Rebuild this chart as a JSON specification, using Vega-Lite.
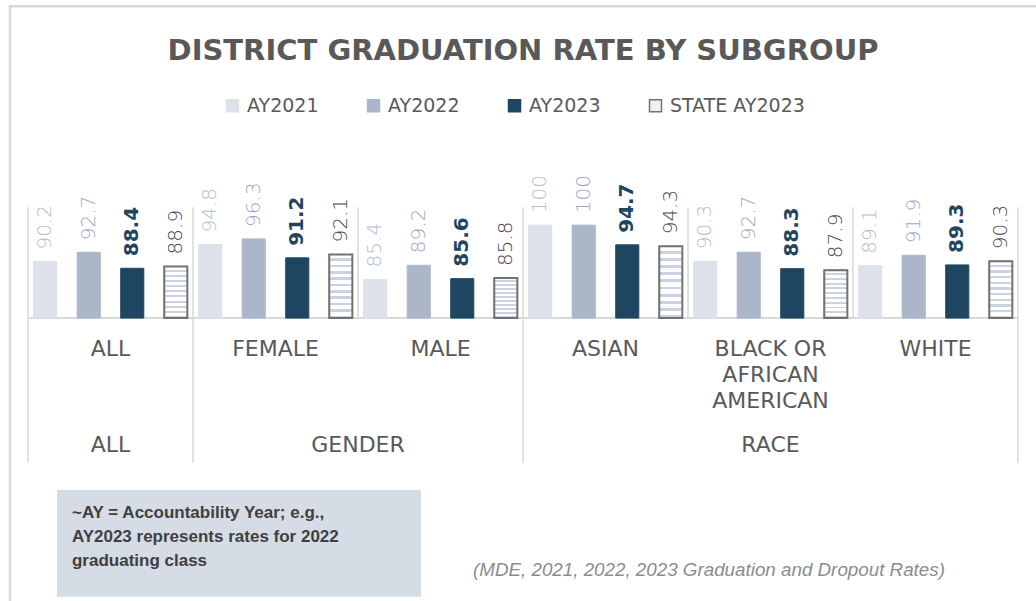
{
  "$schema": "https://vega.github.io/schema/vega-lite/v6.json",
  "width": 990,
  "height": 275,
  "autosize": {"type": "none"},
  "padding": {"left": 28, "top": 188, "right": 18, "bottom": 138},
  "background": "white",
  "config": {
    "view": {"stroke": null},
    "font": "DejaVu Sans",
    "legend": {
      "orient": "none",
      "legendX": 195,
      "legendY": -92,
      "direction": "horizontal",
      "title": null,
      "symbolType": "square",
      "symbolSize": 144,
      "labelFont": "DejaVu Sans",
      "labelFontSize": 19,
      "labelColor": "#595959",
      "labelOffset": 5,
      "columnPadding": 45,
      "padding": 0
    }
  },
  "title": {
    "text": "DISTRICT GRADUATION RATE BY SUBGROUP",
    "anchor": "middle",
    "frame": "group",
    "font": "DejaVu Sans",
    "fontSize": 29,
    "fontWeight": "bold",
    "color": "#595959",
    "offset": -61
  },
  "datasets": {
    "rates": [
      {"subgroup": "ALL", "group": "ALL", "series": "AY2021", "rate": 90.2},
      {"subgroup": "ALL", "group": "ALL", "series": "AY2022", "rate": 92.7},
      {"subgroup": "ALL", "group": "ALL", "series": "AY2023", "rate": 88.4},
      {"subgroup": "ALL", "group": "ALL", "series": "STATE AY2023", "rate": 88.9},
      {"subgroup": "FEMALE", "group": "GENDER", "series": "AY2021", "rate": 94.8},
      {"subgroup": "FEMALE", "group": "GENDER", "series": "AY2022", "rate": 96.3},
      {"subgroup": "FEMALE", "group": "GENDER", "series": "AY2023", "rate": 91.2},
      {"subgroup": "FEMALE", "group": "GENDER", "series": "STATE AY2023", "rate": 92.1},
      {"subgroup": "MALE", "group": "GENDER", "series": "AY2021", "rate": 85.4},
      {"subgroup": "MALE", "group": "GENDER", "series": "AY2022", "rate": 89.2},
      {"subgroup": "MALE", "group": "GENDER", "series": "AY2023", "rate": 85.6},
      {"subgroup": "MALE", "group": "GENDER", "series": "STATE AY2023", "rate": 85.8},
      {"subgroup": "ASIAN", "group": "RACE", "series": "AY2021", "rate": 100},
      {"subgroup": "ASIAN", "group": "RACE", "series": "AY2022", "rate": 100},
      {"subgroup": "ASIAN", "group": "RACE", "series": "AY2023", "rate": 94.7},
      {"subgroup": "ASIAN", "group": "RACE", "series": "STATE AY2023", "rate": 94.3},
      {"subgroup": "BLACK OR AFRICAN AMERICAN", "group": "RACE", "series": "AY2021", "rate": 90.3},
      {"subgroup": "BLACK OR AFRICAN AMERICAN", "group": "RACE", "series": "AY2022", "rate": 92.7},
      {"subgroup": "BLACK OR AFRICAN AMERICAN", "group": "RACE", "series": "AY2023", "rate": 88.3},
      {"subgroup": "BLACK OR AFRICAN AMERICAN", "group": "RACE", "series": "STATE AY2023", "rate": 87.9},
      {"subgroup": "WHITE", "group": "RACE", "series": "AY2021", "rate": 89.1},
      {"subgroup": "WHITE", "group": "RACE", "series": "AY2022", "rate": 91.9},
      {"subgroup": "WHITE", "group": "RACE", "series": "AY2023", "rate": 89.3},
      {"subgroup": "WHITE", "group": "RACE", "series": "STATE AY2023", "rate": 90.3}
    ],
    "labels": [
      {"subgroup": "ALL", "label": "ALL"},
      {"subgroup": "FEMALE", "label": "FEMALE"},
      {"subgroup": "MALE", "label": "MALE"},
      {"subgroup": "ASIAN", "label": "ASIAN"},
      {"subgroup": "BLACK OR AFRICAN AMERICAN", "label": "BLACK OR|AFRICAN|AMERICAN"},
      {"subgroup": "WHITE", "label": "WHITE"}
    ],
    "groups": [
      {"group": "ALL", "first": "ALL", "mid": "ALL"},
      {"group": "GENDER", "first": "FEMALE", "mid": "FEMALE"},
      {"group": "RACE", "first": "ASIAN", "mid": "BLACK OR AFRICAN AMERICAN"}
    ],
    "notes": [
      {"kind": "box", "text": "~AY = Accountability Year; e.g.,|AY2023 represents rates for 2022|graduating class"},
      {"kind": "source", "text": "(MDE,  2021, 2022, 2023 Graduation and Dropout Rates)"}
    ]
  },
  "resolve": {"scale": {"x": "independent"}},
  "layer": [
    {
      "layer": [
        {
          "data": {"values": [{}]},
          "mark": {"type": "rect", "fillOpacity": 0, "fill": "#ffffff", "stroke": "#d9d9d9", "strokeWidth": 2.5},
          "encoding": {
            "x": {"datum": -0.0182, "type": "quantitative", "scale": {"domain": [0, 1], "nice": false, "zero": false}, "axis": null},
            "x2": {"datum": 1.3},
            "y": {"datum": 158.9, "type": "quantitative", "scale": {"domain": [36, 110], "nice": false, "zero": false}, "axis": null},
            "y2": {"datum": -40}
          }
        },
        {
          "data": {"values": [{}]},
          "mark": {"type": "rect", "fill": "#d6dce5"},
          "encoding": {
            "x": {"datum": 0.0293, "type": "quantitative"},
            "x2": {"datum": 0.397},
            "y": {"datum": 28.76, "type": "quantitative"},
            "y2": {"datum": 0}
          }
        },
        {
          "data": {"name": "notes"},
          "transform": [{"filter": "datum.kind === 'box'"}],
          "mark": {"type": "text", "align": "left", "baseline": "alphabetic", "lineBreak": "|", "lineHeight": 24, "font": "Liberation Sans", "fontSize": 17, "fontWeight": "bold", "color": "#404040"},
          "encoding": {
            "x": {"datum": 0.0444, "type": "quantitative"},
            "y": {"datum": 21.2, "type": "quantitative"},
            "text": {"field": "text"}
          }
        },
        {
          "data": {"name": "notes"},
          "transform": [{"filter": "datum.kind === 'source'"}],
          "mark": {"type": "text", "align": "left", "baseline": "alphabetic", "font": "Liberation Sans", "fontSize": 18.8, "fontStyle": "italic", "color": "#8c8c8c"},
          "encoding": {
            "x": {"datum": 0.4495, "type": "quantitative"},
            "y": {"datum": 5.65, "type": "quantitative"},
            "text": {"field": "text"}
          }
        }
      ]
    },
    {
      "layer": [
        {
          "data": {"name": "labels"},
          "mark": {"type": "rule", "color": "#d9d9d9", "strokeWidth": 1.5},
          "encoding": {
            "x": {"field": "subgroup", "type": "nominal", "bandPosition": 0, "scale": {"domain": ["ALL", "FEMALE", "MALE", "ASIAN", "BLACK OR AFRICAN AMERICAN", "WHITE"], "paddingInner": 0, "paddingOuter": 0}, "axis": null},
            "y": {"datum": 104.8, "type": "quantitative"},
            "y2": {"datum": 75}
          }
        },
        {
          "data": {"name": "groups"},
          "mark": {"type": "rule", "color": "#d9d9d9", "strokeWidth": 1.5},
          "encoding": {
            "x": {"field": "first", "type": "nominal", "bandPosition": 0},
            "y": {"datum": 75, "type": "quantitative"},
            "y2": {"datum": 36}
          }
        },
        {
          "data": {"values": [{}]},
          "mark": {"type": "rule", "color": "#d9d9d9", "strokeWidth": 1.5},
          "encoding": {
            "x": {"datum": "WHITE", "type": "nominal", "bandPosition": 1},
            "y": {"datum": 104.8, "type": "quantitative"},
            "y2": {"datum": 36}
          }
        },
        {
          "data": {"values": [{}]},
          "mark": {"type": "rule", "color": "#d9d9d9", "strokeWidth": 2},
          "encoding": {
            "y": {"datum": 75, "type": "quantitative"}
          }
        },
        {
          "data": {"name": "rates"},
          "mark": {"type": "bar", "strokeWidth": 1},
          "encoding": {
            "x": {"field": "subgroup", "type": "nominal"},
            "xOffset": {"field": "series", "type": "nominal", "scale": {"domain": ["AY2021", "AY2022", "AY2023", "STATE AY2023"], "paddingInner": 0.47, "paddingOuter": 0.13}},
            "y": {"field": "rate", "type": "quantitative"},
            "y2": {"datum": 75},
            "fill": {"field": "series", "type": "nominal", "scale": {"domain": ["AY2021", "AY2022", "AY2023", "STATE AY2023"], "range": ["#dce1ea", "#abb6c8", "#1f4660", "#eef1f6"]}},
            "stroke": {"field": "series", "type": "nominal", "scale": {"domain": ["AY2021", "AY2022", "AY2023", "STATE AY2023"], "range": ["#dce1ea", "#abb6c8", "#1f4660", "#767171"]}}
          }
        },
        {
          "data": {"name": "rates"},
          "transform": [{"filter": "datum.series === 'STATE AY2023'"}],
          "mark": {
            "type": "bar",
            "stroke": "#767171",
            "strokeWidth": 2,
            "fill": {
              "gradient": "linear", "x1": 0, "y1": 0, "x2": 0, "y2": 1,
              "stops": [
                {"offset": 0, "color": "#ffffff"}, {"offset": 0.06, "color": "#ffffff"}, {"offset": 0.06, "color": "#c9d3e1"}, {"offset": 0.1, "color": "#c9d3e1"},
                {"offset": 0.1, "color": "#ffffff"}, {"offset": 0.16, "color": "#ffffff"}, {"offset": 0.16, "color": "#c9d3e1"}, {"offset": 0.2, "color": "#c9d3e1"},
                {"offset": 0.2, "color": "#ffffff"}, {"offset": 0.26, "color": "#ffffff"}, {"offset": 0.26, "color": "#c9d3e1"}, {"offset": 0.3, "color": "#c9d3e1"},
                {"offset": 0.3, "color": "#ffffff"}, {"offset": 0.36, "color": "#ffffff"}, {"offset": 0.36, "color": "#c9d3e1"}, {"offset": 0.4, "color": "#c9d3e1"},
                {"offset": 0.4, "color": "#ffffff"}, {"offset": 0.46, "color": "#ffffff"}, {"offset": 0.46, "color": "#c9d3e1"}, {"offset": 0.5, "color": "#c9d3e1"},
                {"offset": 0.5, "color": "#ffffff"}, {"offset": 0.56, "color": "#ffffff"}, {"offset": 0.56, "color": "#c9d3e1"}, {"offset": 0.6, "color": "#c9d3e1"},
                {"offset": 0.6, "color": "#ffffff"}, {"offset": 0.66, "color": "#ffffff"}, {"offset": 0.66, "color": "#c9d3e1"}, {"offset": 0.7, "color": "#c9d3e1"},
                {"offset": 0.7, "color": "#ffffff"}, {"offset": 0.76, "color": "#ffffff"}, {"offset": 0.76, "color": "#c9d3e1"}, {"offset": 0.8, "color": "#c9d3e1"},
                {"offset": 0.8, "color": "#ffffff"}, {"offset": 0.86, "color": "#ffffff"}, {"offset": 0.86, "color": "#c9d3e1"}, {"offset": 0.9, "color": "#c9d3e1"},
                {"offset": 0.9, "color": "#ffffff"}, {"offset": 0.96, "color": "#ffffff"}, {"offset": 0.96, "color": "#c9d3e1"}, {"offset": 1, "color": "#c9d3e1"}
              ]
            }
          },
          "encoding": {
            "x": {"field": "subgroup", "type": "nominal"},
            "xOffset": {"field": "series", "type": "nominal"},
            "y": {"field": "rate", "type": "quantitative"},
            "y2": {"datum": 75}
          }
        },
        {
          "data": {"name": "rates"},
          "transform": [{"filter": "datum.series === 'AY2021'"}],
          "mark": {"type": "text", "angle": 270, "align": "left", "baseline": "middle", "dx": 12, "fontSize": 20, "fontWeight": 300, "color": "#b2bdce"},
          "encoding": {
            "x": {"field": "subgroup", "type": "nominal"},
            "xOffset": {"field": "series", "type": "nominal"},
            "y": {"field": "rate", "type": "quantitative"},
            "text": {"field": "rate", "type": "quantitative"}
          }
        },
        {
          "data": {"name": "rates"},
          "transform": [{"filter": "datum.series === 'AY2022'"}],
          "mark": {"type": "text", "angle": 270, "align": "left", "baseline": "middle", "dx": 12, "fontSize": 20, "fontWeight": 300, "color": "#9aa8be"},
          "encoding": {
            "x": {"field": "subgroup", "type": "nominal"},
            "xOffset": {"field": "series", "type": "nominal"},
            "y": {"field": "rate", "type": "quantitative"},
            "text": {"field": "rate", "type": "quantitative"}
          }
        },
        {
          "data": {"name": "rates"},
          "transform": [{"filter": "datum.series === 'STATE AY2023'"}],
          "mark": {"type": "text", "angle": 270, "align": "left", "baseline": "middle", "dx": 12, "fontSize": 20, "fontWeight": 300, "color": "#454545"},
          "encoding": {
            "x": {"field": "subgroup", "type": "nominal"},
            "xOffset": {"field": "series", "type": "nominal"},
            "y": {"field": "rate", "type": "quantitative"},
            "text": {"field": "rate", "type": "quantitative"}
          }
        },
        {
          "data": {"name": "rates"},
          "transform": [{"filter": "datum.series === 'AY2023'"}],
          "mark": {"type": "text", "angle": 270, "align": "left", "baseline": "middle", "dx": 12, "fontSize": 20, "fontWeight": "bold", "color": "#1f4660"},
          "encoding": {
            "x": {"field": "subgroup", "type": "nominal"},
            "xOffset": {"field": "series", "type": "nominal"},
            "y": {"field": "rate", "type": "quantitative"},
            "text": {"field": "rate", "type": "quantitative"}
          }
        },
        {
          "data": {"name": "labels"},
          "mark": {"type": "text", "align": "center", "baseline": "alphabetic", "lineBreak": "|", "lineHeight": 26, "fontSize": 22, "color": "#595959"},
          "encoding": {
            "x": {"field": "subgroup", "type": "nominal"},
            "y": {"datum": 64.8, "type": "quantitative"},
            "text": {"field": "label"}
          }
        },
        {
          "data": {"name": "groups"},
          "transform": [{"filter": "datum.group !== 'GENDER'"}],
          "mark": {"type": "text", "align": "center", "baseline": "alphabetic", "fontSize": 22, "color": "#595959"},
          "encoding": {
            "x": {"field": "mid", "type": "nominal"},
            "y": {"datum": 39.0, "type": "quantitative"},
            "text": {"field": "group"}
          }
        },
        {
          "data": {"name": "groups"},
          "transform": [{"filter": "datum.group === 'GENDER'"}],
          "mark": {"type": "text", "align": "center", "baseline": "alphabetic", "fontSize": 22, "color": "#595959"},
          "encoding": {
            "x": {"field": "first", "type": "nominal", "bandPosition": 1},
            "y": {"datum": 39.0, "type": "quantitative"},
            "text": {"field": "group"}
          }
        }
      ]
    }
  ]
}
